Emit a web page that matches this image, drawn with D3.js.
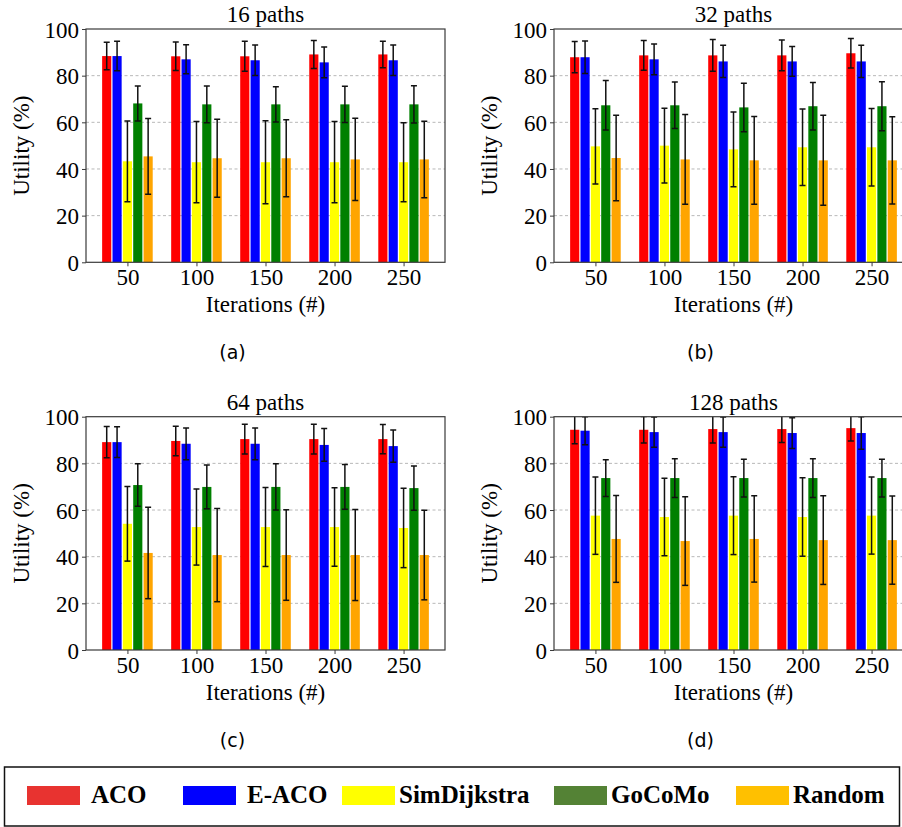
<!DOCTYPE html>
<html><head><meta charset="utf-8">
<script src="https://cdn.jsdelivr.net/npm/d3@7"></script>
<style>body{margin:0;background:#fff}svg{display:block}</style>
</head><body><svg id="c" width="902" height="827"></svg>
<script>
const iterations = ["50","100","150","200","250"];
const seriesNames = ["ACO","E-ACO","SimDijkstra","GoCoMo","Random"];
const panelTitles = ["16 paths","32 paths","64 paths","128 paths"];
const subLabels = ["(a)","(b)","(c)","(d)"];
const yTicks = [0,20,40,60,80,100];

// mean utility (%) per series [ACO, E-ACO, SimDijkstra, GoCoMo, Random] x iterations
const mean16 = [[88.4,88.3,88.3,89.1,89.1],[88.4,87.0,86.6,85.7,86.6],[43.3,42.9,42.9,42.9,42.9],[68.1,67.7,67.7,67.7,67.7],[45.4,44.6,44.6,44.1,44.1]];
const err16  = [[5.9,6.1,6.4,6.0,5.7],[6.3,6.2,6.5,6.6,6.5],[17.3,17.4,17.8,17.4,16.9],[7.5,7.9,7.6,7.8,8.0],[16.2,16.7,16.5,17.6,16.4]];
const mean32 = [[87.9,88.7,88.7,88.7,89.6],[87.9,87.0,86.1,86.1,86.1],[49.7,50.0,48.4,49.3,49.3],[67.3,67.3,66.4,66.9,66.9],[44.7,44.1,43.7,43.7,43.7]];
const err32  = [[6.7,6.4,6.8,6.6,6.3],[7.0,6.6,6.9,6.4,6.9],[16.1,16.0,16.0,16.4,16.6],[10.6,10.0,10.4,10.2,10.5],[18.3,19.2,18.8,19.3,18.7]];
const mean64 = [[89.1,89.6,90.4,90.4,90.4],[89.1,88.4,88.4,87.9,87.4],[54.1,52.7,52.7,52.7,52.3],[70.7,69.9,69.9,69.9,69.4],[41.6,40.7,40.7,40.7,40.7]];
const err64  = [[6.7,6.3,6.4,6.4,6.3],[6.6,6.8,6.8,7.0,6.9],[16.0,16.3,16.9,16.8,17.0],[9.1,9.4,9.9,9.6,9.5],[19.6,20.0,19.4,19.5,19.2]];
const mean128 = [[94.4,94.4,94.7,94.7,95.1],[94.0,93.4,93.4,93.0,93.0],[57.6,57.0,57.6,57.0,57.6],[73.7,73.7,73.7,73.7,73.7],[47.6,46.7,47.6,47.1,47.1]];
const err128  = [[6.0,5.7,6.0,5.8,5.5],[6.0,6.5,6.5,6.6,7.0],[16.6,16.6,16.7,16.8,16.5],[7.9,8.3,8.1,8.3,8.1],[18.6,19.0,18.5,19.0,18.9]];

const panelMeans = [mean16, mean32, mean64, mean128];
const panelErrs = [err16, err32, err64, err128];

const barColors = ["#ff0000","#0000ff","#ffff00","#008000","#ffa500"];
const legendColors = ["#e83330","#0000ff","#ffff00","#548235","#ffc000"];

const SERIF = '"Liberation Serif"';
const SANS = '"DejaVu Sans"';
const svg = d3.select("#c");
const W = 359, H = 233.3;
const origins = [[86,29],[554,29],[86,416.7],[554,416.7]];

function serifText(sel, size){ return sel.style("font-family",SERIF).style("font-size",size+"px").attr("fill","#000"); }

origins.forEach((o,p)=>{
  const [ox,oy] = o;
  const g = svg.append("g").attr("transform",`translate(${ox},${oy})`);
  const x = d3.scaleLinear().domain([-0.6,4.6]).range([0,W]);
  const y = d3.scaleLinear().domain([0,100]).range([H,0]);
  const bw = x(0.15)-x(0);
  const clipId = "clip"+p;
  g.append("clipPath").attr("id",clipId).append("rect").attr("width",W).attr("height",H);

  g.append("g").selectAll("line").data(yTicks.filter(t=>t>0&&t<100)).join("line")
    .attr("x1",0).attr("x2",W).attr("y1",d=>y(d)).attr("y2",d=>y(d))
    .attr("stroke","#b8b8b8").attr("stroke-width",1).attr("stroke-dasharray","3,2.5");

  const plot = g.append("g").attr("clip-path",`url(#${clipId})`);
  const means = panelMeans[p], errs = panelErrs[p];
  seriesNames.forEach((s,k)=>{
    const data = iterations.map((it,i)=>({i, v:means[k][i], e:errs[k][i]}));
    plot.append("g").selectAll("rect").data(data).join("rect")
      .attr("x",d=>x(d.i+(k-2)*0.15)-bw/2+0.6)
      .attr("width",bw-1.2)
      .attr("y",d=>y(d.v)).attr("height",d=>y(0)-y(d.v))
      .attr("fill",barColors[k]);
  });
  seriesNames.forEach((s,k)=>{
    const data = iterations.map((it,i)=>({i, v:means[k][i], e:errs[k][i]}));
    const eg = plot.append("g").attr("stroke","#111").attr("stroke-width",1.5);
    data.forEach(d=>{
      const cx = x(d.i+(k-2)*0.15);
      eg.append("line").attr("x1",cx).attr("x2",cx).attr("y1",y(d.v+d.e)).attr("y2",y(d.v-d.e));
      eg.append("line").attr("x1",cx-3).attr("x2",cx+3).attr("y1",y(d.v+d.e)).attr("y2",y(d.v+d.e));
      eg.append("line").attr("x1",cx-3).attr("x2",cx+3).attr("y1",y(d.v-d.e)).attr("y2",y(d.v-d.e));
    });
  });

  g.append("rect").attr("width",W).attr("height",H).attr("fill","none")
    .attr("stroke","#3a3a3a").attr("stroke-width",1.2);

  const ya = g.append("g").call(d3.axisLeft(y).tickValues(yTicks).tickSize(4).tickPadding(3));
  ya.select(".domain").remove();
  ya.selectAll("line").attr("stroke","#3a3a3a");
  serifText(ya.selectAll("text"),23).attr("dy","0.36em");
  const xa = g.append("g").attr("transform",`translate(0,${H})`)
    .call(d3.axisBottom(x).tickValues([0,1,2,3,4]).tickFormat(i=>iterations[i]).tickSize(4).tickPadding(2));
  xa.select(".domain").remove();
  xa.selectAll("line").attr("stroke","#3a3a3a");
  serifText(xa.selectAll("text"),23).attr("dy","0.72em");

  serifText(g.append("text"),23).attr("x",W/2).attr("y",-7).attr("text-anchor","middle").text(panelTitles[p]);
  serifText(g.append("text"),23).attr("x",W/2).attr("y",H+50).attr("text-anchor","middle").text("Iterations (#)");
  serifText(g.append("text"),23).attr("transform",`translate(-57,${H/2}) rotate(-90)`).attr("text-anchor","middle").text("Utility (%)");
  g.append("text").style("font-family",SANS).style("font-size","19px").attr("x",W/2-33).attr("y",H+97)
    .attr("text-anchor","middle").text(subLabels[p]);
});

const lg = svg.append("g");
lg.append("rect").attr("x",4.5).attr("y",767).attr("width",895).attr("height",59)
  .attr("fill","none").attr("stroke","#111").attr("stroke-width",1.5);
const legX = [27,183,342,554,736];
const legGap = [64,64,57,57,57];
seriesNames.forEach((s,k)=>{
  lg.append("rect").attr("x",legX[k]).attr("y",786).attr("width",53).attr("height",19).attr("fill",legendColors[k]);
  serifText(lg.append("text"),25).style("font-weight","bold").attr("x",legX[k]+legGap[k]).attr("y",803).text(s);
});
</script></body></html>
